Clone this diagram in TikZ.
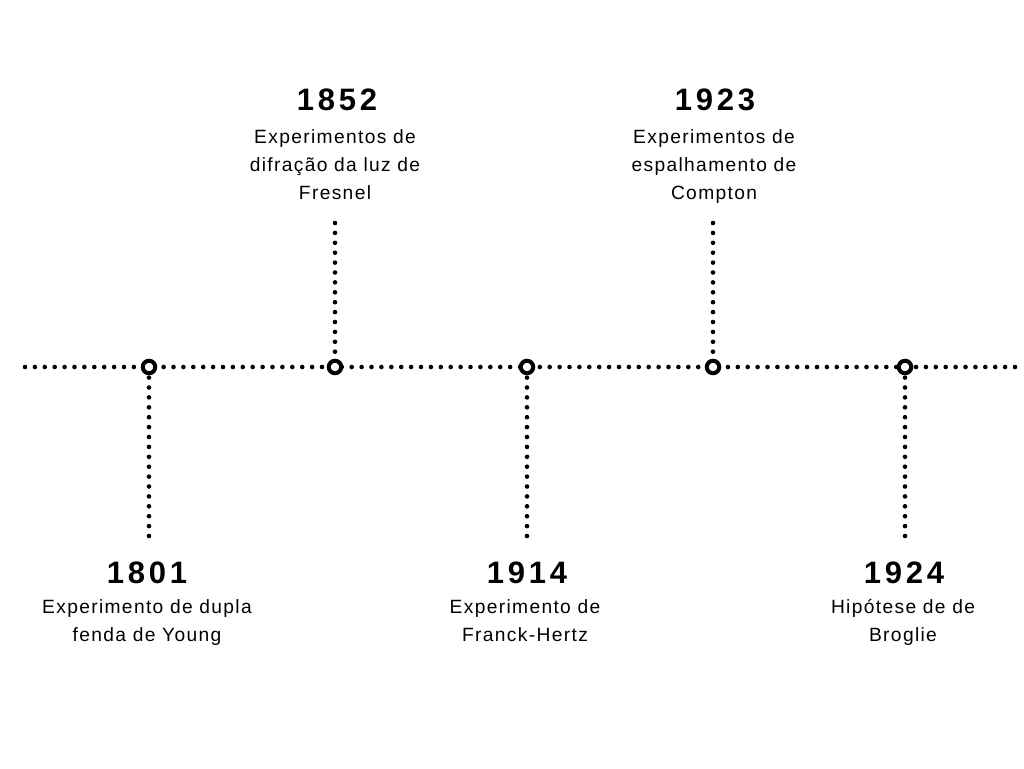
\documentclass[tikz,border=0pt]{standalone}
\usepackage{fontspec}
\setmainfont{Liberation Sans}
\newfontfamily\yearfont[LetterSpace=12]{Liberation Sans Bold}
\newfontfamily\descfont[LetterSpace=7]{Liberation Sans}
\begin{document}
\begin{tikzpicture}[x=1pt,y=-1pt,
  dotline/.style={line width=4.6pt,line cap=round,dash pattern=on 0pt off 9.9pt},
  milestone/.style={circle,draw=black,fill=white,line width=4pt,minimum size=12.5pt,inner sep=0pt},
  yeartext/.style={anchor=base,inner sep=0pt,font=\yearfont\fontsize{31pt}{31pt}\selectfont},
  desctext/.style={anchor=base,inner sep=0pt,font=\descfont\fontsize{19.2pt}{28pt}\selectfont}]
\useasboundingbox[fill=white] (0,0) rectangle (1024,768);
% axis
\coordinate (L) at (25,367);
\coordinate (R) at (1020,367);
\draw[dotline] (L) -- (R);
% milestones
\node[milestone] (c1) at (149,367) {};
\node[milestone] (c2) at (335,367) {};
\node[milestone] (c3) at (527,367) {};
\node[milestone] (c4) at (713,367) {};
\node[milestone] (c5) at (905,367) {};
% stems
\coordinate (s1) at (149,536);
\coordinate (s2) at (335,223);
\coordinate (s3) at (527,536);
\coordinate (s4) at (713,223);
\coordinate (s5) at (905,536);
\draw[dotline] (s1) -- (c1.south);
\draw[dotline] (s2) -- (c2.north);
\draw[dotline] (s3) -- (c3.south);
\draw[dotline] (s4) -- (c4.north);
\draw[dotline] (s5) -- (c5.south);
% top labels
\node[yeartext] (y2) at (337,110) {1852};
\node[desctext] (d2a) at (335,143) {Experimentos de};
\node[desctext] (d2b) at (335,171) {difração da luz de};
\node[desctext] (d2c) at (335,199) {Fresnel};
\node[yeartext] (y4) at (715,110) {1923};
\node[desctext] (d4a) at (714,143) {Experimentos de};
\node[desctext] (d4b) at (714,171) {espalhamento de};
\node[desctext] (d4c) at (714,199) {Compton};
% bottom labels
\node[yeartext] (y1) at (147,583) {1801};
\node[desctext] (d1a) at (147,613) {Experimento de dupla};
\node[desctext] (d1b) at (147,641) {fenda de Young};
\node[yeartext] (y3) at (527,583) {1914};
\node[desctext] (d3a) at (525,613) {Experimento de};
\node[desctext] (d3b) at (525,641) {Franck-Hertz};
\node[yeartext] (y5) at (904,583) {1924};
\node[desctext] (d5a) at (903,613) {Hipótese de de};
\node[desctext] (d5b) at (903,641) {Broglie};
\end{tikzpicture}
\end{document}
